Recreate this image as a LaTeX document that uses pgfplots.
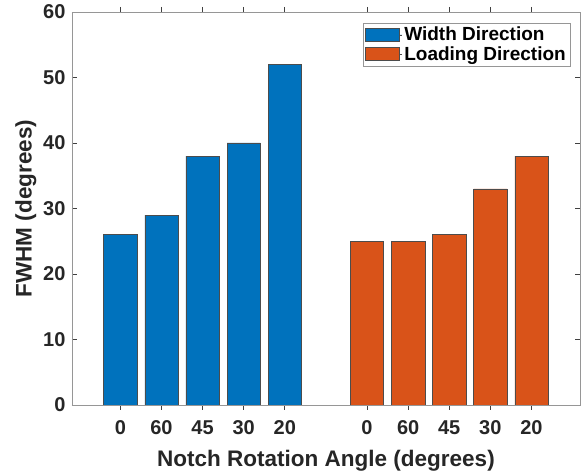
\documentclass[border=0pt]{standalone}
\usepackage{fontspec}
\setmainfont{Liberation Sans}
\usepackage{pgfplots}
\pgfplotsset{compat=1.18}
\definecolor{mblue}{RGB}{0,114,189}
\definecolor{morange}{RGB}{217,83,25}
\definecolor{axgray}{RGB}{150,150,150}
\definecolor{txt}{RGB}{38,38,38}
\begin{document}
\begin{tikzpicture}
\begin{axis}[
  at={(0,0)}, anchor=south west,
  scale only axis,
  width=508pt, height=393pt,
  xmin=-0.175, xmax=12.18,
  ymin=0, ymax=60,
  xtick={1,2,3,4,5,7,8,9,10,11},
  xticklabels={0,60,45,30,20,0,60,45,30,20},
  ytick={0,10,...,60},
  tick align=inside,
  major tick length=5pt,
  axis line style={axgray, line width=0.7pt},
  tick style={black!75, line width=0.6pt},
  axis on top,
  /pgf/number format/assume math mode=true,
  ticklabel style={font=\bfseries\fontsize{20}{24}\selectfont, text=txt},
  xticklabel style={yshift=-7pt},
  yticklabel style={xshift=-3pt},
  xlabel={Notch Rotation Angle (degrees)},
  ylabel={FWHM (degrees)},
  label style={font=\bfseries\fontsize{22.5}{26}\selectfont, text=txt},
  xlabel style={yshift=-9pt},
  ylabel style={yshift=0pt},
  ybar, bar width=0.81, bar shift=0pt,
  legend cell align=left,
  legend style={at={(1,1)}, anchor=north east, xshift=-10pt, yshift=-11pt,
    draw=axgray, fill=white, font=\bfseries\fontsize{19}{20.5}\selectfont,
    inner xsep=2pt, inner ysep=2pt, row sep=0pt},
  legend image code/.code={\path (0pt,0pt) -- (37pt,0pt); \draw[#1] (0pt,-6pt) rectangle (34pt,7pt);},
]
\addplot[fill=mblue, draw=black!70, line width=0.5pt] coordinates {(1,26) (2,29) (3,38) (4,40) (5,52)};
\addlegendentry{Width Direction}
\addplot[fill=morange, draw=black!70, line width=0.5pt] coordinates {(7,25) (8,25) (9,26) (10,33) (11,38)};
\addlegendentry{Loading Direction}
\end{axis}
\pgfresetboundingbox
\path[use as bounding box] (-72pt,-68pt) rectangle (509pt,405pt);
\end{tikzpicture}
\end{document}
